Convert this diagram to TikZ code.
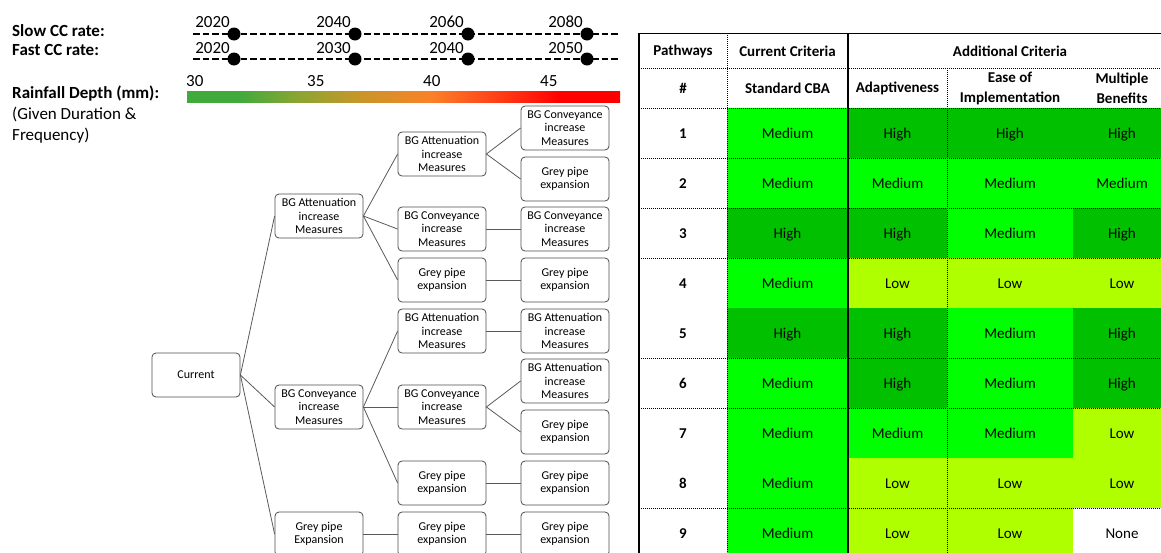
\documentclass[tikz,border=0pt]{standalone}
\usepackage{fontspec}
\setmainfont{Carlito}
\tikzset{>=latex}
% rating colours
\definecolor{High}{RGB}{0,192,0}
\definecolor{Medium}{RGB}{0,255,0}
\definecolor{Low}{RGB}{176,255,0}
\definecolor{None}{RGB}{255,255,255}
% rainfall scale colours
\definecolor{rgreen}{RGB}{64,170,60}
\definecolor{rolive}{RGB}{140,165,50}
\definecolor{rgold}{RGB}{200,150,40}
\definecolor{rorange}{RGB}{250,130,40}
\definecolor{rred}{RGB}{255,70,25}
\definecolor{rfull}{RGB}{255,0,0}
\pgfdeclarehorizontalshading{rainfall}{100bp}{color(0bp)=(rgreen); color(31bp)=(rgreen);
  color(38bp)=(rolive); color(45bp)=(rgold); color(53bp)=(rorange); color(60bp)=(rred);
  color(68bp)=(rfull); color(100bp)=(rfull)}
\tikzset{
  box/.style={draw=black!70, line width=0.8pt, rounded corners=4pt, minimum width=88pt,
    minimum height=44pt, inner sep=1pt, align=center, font=\fontsize{12}{13.3}\selectfont},
  branch/.style={draw=black!65, line width=0.8pt},
  timeline/.style={line width=2.8pt, dash pattern=on 6.5pt off 3pt},
  dot/.style={circle, fill=black, inner sep=0pt, minimum size=13pt},
  year/.style={inner sep=0pt, font=\fontsize{17}{20}\selectfont},
  lefttext/.style={inner sep=0pt, anchor=base west, font=\fontsize{17}{21}\selectfont},
  hdr/.style={inner sep=0pt, align=center, font=\bfseries\fontsize{15}{20}\selectfont},
  cell/.style={inner sep=0pt, minimum height=50pt, text height=10.5pt, text depth=0pt,
    font=\fontsize{15}{18}\selectfont},
  rule/.style={line width=0.7pt},
  dotrule/.style={line width=0.8pt, dash pattern=on 1pt off 1pt}
}

\begin{document}
\begin{tikzpicture}[x=1pt, y=-1pt]
\useasboundingbox (0,0) rectangle (1161,552);
% time scales
\node[lefttext, font=\bfseries\fontsize{17}{21}\selectfont] (slow) at (12,36) {Slow CC rate:};
\node[lefttext, font=\bfseries\fontsize{17}{21}\selectfont] (fast) at (12,55) {Fast CC rate:};
\coordinate (s0) at (193,34);
\coordinate (s5) at (620,34);
\coordinate (f0) at (193,59);
\coordinate (f5) at (620,59);
\draw[timeline] (s0) -- (s5);
\draw[timeline] (f0) -- (f5);
\node[dot] (s1) at (234,34) {};
\node[dot] (s2) at (355,34) {};
\node[dot] (s3) at (468,34) {};
\node[dot] (s4) at (587,34) {};
\node[dot] (f1) at (234,59) {};
\node[dot] (f2) at (355,59) {};
\node[dot] (f3) at (468,59) {};
\node[dot] (f4) at (587,59) {};
\node[year, anchor=base east] (sy1) at (230,27) {2020};
\node[year, anchor=base east] (sy2) at (351,27) {2040};
\node[year, anchor=base east] (sy3) at (464,27) {2060};
\node[year, anchor=base east] (sy4) at (583,27) {2080};
\node[year, anchor=base east] (fy1) at (230,53) {2020};
\node[year, anchor=base east] (fy2) at (351,53) {2030};
\node[year, anchor=base east] (fy3) at (464,53) {2040};
\node[year, anchor=base east] (fy4) at (583,53) {2050};
% rainfall scale
\node[lefttext, font=\bfseries\fontsize{17}{21}\selectfont] (depth) at (12,98) {Rainfall Depth (mm):};
\node[lefttext] (given) at (12,119) {(Given Duration \&};
\node[lefttext] (freq) at (12,140) {Frequency)};
\shade[shading=rainfall] (187,91) rectangle (620,102);
\node[year, anchor=base west] (d30) at (186,86) {30};
\node[year, anchor=base west] (d35) at (307,86) {35};
\node[year, anchor=base west] (d40) at (423,86) {40};
\node[year, anchor=base west] (d45) at (540,86) {45};

% tree
\node[box] (cur) at (196,375) {Current};
\node[box] (a) at (319,216) {BG Attenuation\\increase\\Measures};
\node[box] (c) at (319,407) {BG Conveyance\\increase\\Measures};
\node[box] (g) at (319,534) {Grey pipe\\Expansion};
% second step
\node[box] (aa) at (442,154) {BG Attenuation\\increase\\Measures};
\node[box] (ac) at (442,229) {BG Conveyance\\increase\\Measures};
\node[box] (ag) at (442,280) {Grey pipe\\expansion};
\node[box] (ca) at (442,331) {BG Attenuation\\increase\\Measures};
\node[box] (cc) at (442,407) {BG Conveyance\\increase\\Measures};
\node[box] (cg) at (442,483) {Grey pipe\\expansion};
\node[box] (gg) at (442,534) {Grey pipe\\expansion};
% third step
\node[box] (aac) at (565,128) {BG Conveyance\\increase\\Measures};
\node[box] (aag) at (565,179) {Grey pipe\\expansion};
\node[box] (acc) at (565,229) {BG Conveyance\\increase\\Measures};
\node[box] (agg) at (565,280) {Grey pipe\\expansion};
\node[box] (caa) at (565,331) {BG Attenuation\\increase\\Measures};
\node[box] (cca) at (565,381) {BG Attenuation\\increase\\Measures};
\node[box] (ccg) at (565,432) {Grey pipe\\expansion};
\node[box] (cgg) at (565,483) {Grey pipe\\expansion};
\node[box] (ggg) at (565,534) {Grey pipe\\expansion};
% branches
\draw[branch] (cur.east) -- (a.west);
\draw[branch] (cur.east) -- (c.west);
\draw[branch] (cur.east) -- (g.west);
\draw[branch] (a.east) -- (aa.west);
\draw[branch] (a.east) -- (ac.west);
\draw[branch] (a.east) -- (ag.west);
\draw[branch] (c.east) -- (ca.west);
\draw[branch] (c.east) -- (cc.west);
\draw[branch] (c.east) -- (cg.west);
\draw[branch] (g.east) -- (gg.west);
\draw[branch] (aa.east) -- (aac.west);
\draw[branch] (aa.east) -- (aag.west);
\draw[branch] (ac.east) -- (acc.west);
\draw[branch] (ag.east) -- (agg.west);
\draw[branch] (ca.east) -- (caa.west);
\draw[branch] (cc.east) -- (cca.west);
\draw[branch] (cc.east) -- (ccg.west);
\draw[branch] (cg.east) -- (cgg.west);
\draw[branch] (gg.east) -- (ggg.west);

% table cells
\foreach \r/\a/\b/\c/\d in {1/Medium/High/High/High, 2/Medium/Medium/Medium/Medium,
    3/High/High/Medium/High, 4/Medium/Low/Low/Low, 5/High/High/Medium/High,
    6/Medium/High/Medium/High, 7/Medium/Medium/Medium/Low, 8/Medium/Low/Low/Low,
    9/Medium/Low/Low/None}{
  \pgfmathsetmacro\yc{133+50*(\r-1)}
  \node[hdr, text height=10.5pt, text depth=0pt] (n\r) at (683,\yc) {\r};
  \node[cell, fill=\a, minimum width=122pt] (cba\r) at (787.5,\yc) {\a};
  \node[cell, fill=\b, minimum width=100pt] (adp\r) at (897.5,\yc) {\b};
  \node[cell, fill=\c, minimum width=127pt] (ease\r) at (1010,\yc) {\c};
  \node[cell, fill=\d, minimum width=99pt] (mult\r) at (1122,\yc) {\d};
}
% table heading
\node[hdr] (pw) at (683,51) {Pathways};
\node[hdr] (cur crit) at (787.5,51) {Current Criteria};
\node[hdr] (add crit) at (1010,51) {Additional Criteria};
\node[hdr] (hash) at (683,88) {\#};
\node[hdr] (std) at (787.5,88) {Standard CBA};
\node[hdr] (adapt) at (897.5,88) {Adaptiveness};
\node[hdr] (easehd) at (1010,88) {Ease of\\Implementation};
\node[hdr] (multhd) at (1122,88) {Multiple\\Benefits};
% table rules
\draw[rule] (639,33) -- (1171,33);
\draw[line width=1.4pt] (639,33) -- (639,560);
\draw[line width=1.6pt] (848,33) -- (848,560);
\draw[dotrule] (727,33) -- (727,560);
\draw[dotrule] (947,68) -- (947,560);
\foreach \y in {68,108,158,208,258,358,408,508}
  \draw[dotrule] (639,\y) -- (1171,\y);
\end{tikzpicture}
\end{document}
